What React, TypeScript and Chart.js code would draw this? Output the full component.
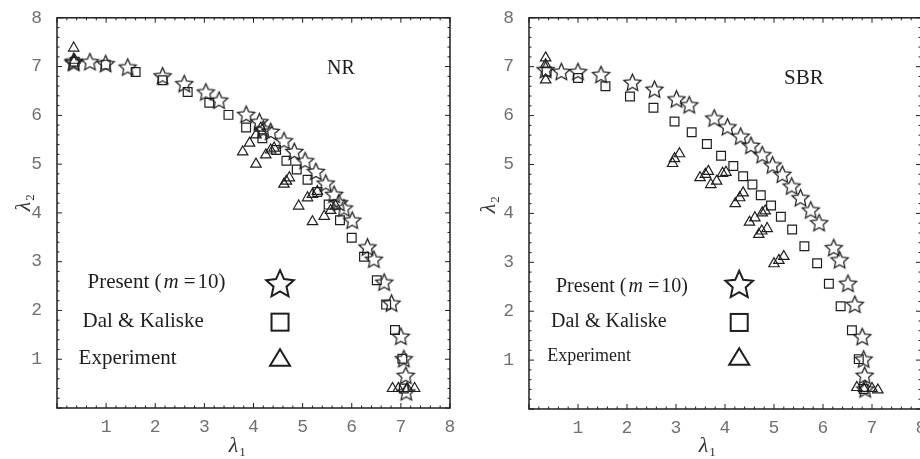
import React, { useEffect, useRef } from 'react';
import { Chart, registerables } from 'chart.js';
Chart.register(...registerables);

// ---------- NR (left panel) ----------
const nrPresentX = [0.34, 0.34, 0.67, 0.99, 1.44, 2.15, 2.59, 3.03, 3.30, 3.85, 4.12, 4.20, 4.35, 4.62, 4.83, 5.05, 5.27, 5.47, 5.64, 5.74, 5.84, 6.01, 6.32, 6.45, 6.66, 6.81, 7.00, 7.06, 7.10, 7.11];
const nrPresentY = [7.11, 7.08, 7.10, 7.06, 6.99, 6.81, 6.65, 6.48, 6.31, 6.02, 5.87, 5.72, 5.67, 5.48, 5.26, 5.07, 4.85, 4.61, 4.38, 4.21, 4.10, 3.85, 3.30, 3.05, 2.58, 2.15, 1.47, 1.01, 0.67, 0.33];
const nrDalX = [0.36, 0.99, 1.60, 2.15, 2.66, 3.10, 3.49, 3.85, 4.18, 4.46, 4.67, 4.88, 5.10, 5.30, 5.53, 5.76, 6.00, 6.25, 6.51, 6.70, 6.88, 7.03, 7.06];
const nrDalY = [7.10, 7.04, 6.89, 6.72, 6.48, 6.26, 6.01, 5.75, 5.53, 5.29, 5.07, 4.89, 4.68, 4.43, 4.17, 3.85, 3.49, 3.10, 2.62, 2.12, 1.60, 1.01, 0.40];
const nrExpX = [0.34, 0.36, 3.78, 3.92, 4.05, 4.05, 4.15, 4.25, 4.35, 4.42, 4.62, 4.67, 4.73, 4.92, 5.10, 5.20, 5.20, 5.30, 5.44, 5.57, 5.67, 6.83, 6.95, 7.13, 7.28];
const nrExpY = [7.38, 7.13, 5.25, 5.43, 5.60, 5.00, 5.74, 5.19, 5.29, 5.33, 4.59, 4.65, 4.72, 4.14, 4.31, 4.38, 3.82, 4.44, 3.93, 4.05, 4.14, 0.40, 0.40, 0.40, 0.40];

// ---------- SBR (right panel) ----------
const sbrPresentX = [0.34, 0.66, 1.00, 1.47, 2.11, 2.56, 3.01, 3.27, 3.78, 4.05, 4.32, 4.53, 4.76, 4.97, 5.17, 5.36, 5.54, 5.75, 5.92, 6.22, 6.34, 6.51, 6.65, 6.80, 6.83, 6.85, 6.86];
const sbrPresentY = [6.94, 6.90, 6.90, 6.84, 6.68, 6.54, 6.34, 6.22, 5.95, 5.77, 5.58, 5.39, 5.20, 4.99, 4.80, 4.56, 4.32, 4.07, 3.81, 3.30, 3.05, 2.57, 2.14, 1.48, 1.02, 0.69, 0.41];
const sbrDalX = [0.36, 1.00, 1.56, 2.06, 2.54, 2.97, 3.32, 3.63, 3.92, 4.17, 4.37, 4.56, 4.73, 4.94, 5.14, 5.37, 5.62, 5.88, 6.12, 6.36, 6.59, 6.73, 6.83];
const sbrDalY = [6.90, 6.77, 6.60, 6.39, 6.16, 5.88, 5.66, 5.42, 5.18, 4.97, 4.76, 4.59, 4.37, 4.16, 3.93, 3.67, 3.33, 2.98, 2.56, 2.10, 1.61, 1.02, 0.41];
const sbrExpX = [0.34, 0.34, 0.34, 2.93, 2.97, 3.07, 3.49, 3.60, 3.66, 3.71, 3.83, 3.95, 4.02, 4.21, 4.30, 4.37, 4.50, 4.61, 4.69, 4.75, 4.76, 4.82, 4.86, 5.00, 5.10, 5.20, 6.69, 6.83, 7.00, 7.12];
const sbrExpY = [7.18, 7.04, 6.73, 5.02, 5.12, 5.22, 4.73, 4.80, 4.86, 4.59, 4.66, 4.82, 4.84, 4.20, 4.32, 4.42, 3.82, 3.91, 3.57, 3.64, 4.01, 4.05, 3.69, 2.97, 3.04, 3.12, 0.44, 0.42, 0.42, 0.39];

const tickLabels = ['', '1', '2', '3', '4', '5', '6', '7', '8'];
const seriesNames = ['Present', 'Dal & Kaliske', 'Experiment'];

const INK = '#1e1e1e';

function toPts(xs: number[], ys: number[]) {
  return xs.map((x, i) => ({ x, y: ys[i] }));
}

function starPath(ctx: CanvasRenderingContext2D, cx: number, cy: number, R: number, r: number) {
  ctx.beginPath();
  for (let i = 0; i < 10; i++) {
    const a = -Math.PI / 2 + (i * Math.PI) / 5;
    const rad = i % 2 === 0 ? R : r;
    const x = cx + rad * Math.cos(a);
    const y = cy + rad * Math.sin(a);
    if (i === 0) ctx.moveTo(x, y);
    else ctx.lineTo(x, y);
  }
  ctx.closePath();
}

function starImage(R: number, lw: number) {
  const s = Math.ceil(2 * R + lw * 2 + 2);
  const c = document.createElement('canvas');
  c.width = s;
  c.height = s;
  const ctx = c.getContext('2d')!;
  starPath(ctx, s / 2, s / 2 + R * 0.08, R, R * 0.47);
  ctx.lineWidth = lw;
  ctx.strokeStyle = INK;
  ctx.stroke();
  return c;
}

type Panel = {
  present: { x: number; y: number }[];
  dal: { x: number; y: number }[];
  exp: { x: number; y: number }[];
  name: string;
  nameAt: [number, number];
  nameSize: number;
  legend: {
    presentText: [number, number]; presentSize: number;
    dalText: [number, number]; dalSize: number;
    expText: [number, number]; expSize: number;
    markerX: number; starY: number; squareY: number; triY: number;
  };
  yTitleAt: [number, number];
  xTitleAt: [number, number];
  yAxisWidth: number;
  xAxisHeight: number;
};

const serif = '"Liberation Serif", "Times New Roman", "DejaVu Serif", serif';

function framePlugin(p: Panel) {
  return {
    id: 'frame',
    afterDraw(chart: any) {
      const ctx: CanvasRenderingContext2D = chart.ctx;
      const xs = chart.scales.x;
      const ys = chart.scales.y;
      const { left, right, top, bottom } = chart.chartArea;
      ctx.save();
      // border
      ctx.strokeStyle = INK;
      ctx.lineWidth = 1.5;
      ctx.strokeRect(left, top, right - left, bottom - top);
      // ticks inside on all sides
      ctx.lineWidth = 1;
      ctx.beginPath();
      for (let k = 0; k <= 40; k++) {
        const v = k * 0.2;
        const major = k % 5 === 0;
        const len = major ? 5 : 2.5;
        const px = xs.getPixelForValue(v);
        ctx.moveTo(px, bottom);
        ctx.lineTo(px, bottom - len);
        ctx.moveTo(px, top);
        ctx.lineTo(px, top + len);
        const py = ys.getPixelForValue(v);
        ctx.moveTo(left, py);
        ctx.lineTo(left + len, py);
        ctx.moveTo(right, py);
        ctx.lineTo(right - len, py);
      }
      ctx.stroke();

      ctx.fillStyle = INK;
      ctx.textBaseline = 'middle';
      // panel name
      ctx.font = `${p.nameSize}px ${serif}`;
      ctx.textAlign = 'center';
      ctx.fillText(p.name, xs.getPixelForValue(p.nameAt[0]), ys.getPixelForValue(p.nameAt[1]));

      // legend texts
      const L = p.legend;
      ctx.textAlign = 'left';
      let tx = xs.getPixelForValue(L.presentText[0]);
      const ty = ys.getPixelForValue(L.presentText[1]);
      ctx.font = `${L.presentSize}px ${serif}`;
      const s1 = seriesNames[0] + ' (';
      ctx.fillText(s1, tx, ty);
      tx += ctx.measureText(s1).width + 2;
      ctx.font = `italic ${L.presentSize}px ${serif}`;
      ctx.fillText('m', tx, ty);
      tx += ctx.measureText('m').width + 5;
      ctx.font = `${L.presentSize}px ${serif}`;
      ctx.fillText('=', tx, ty);
      tx += ctx.measureText('=').width + 2;
      ctx.fillText('10)', tx, ty);

      ctx.font = `${L.dalSize}px ${serif}`;
      ctx.fillText(seriesNames[1], xs.getPixelForValue(L.dalText[0]), ys.getPixelForValue(L.dalText[1]));
      ctx.font = `${L.expSize}px ${serif}`;
      ctx.fillText(seriesNames[2], xs.getPixelForValue(L.expText[0]), ys.getPixelForValue(L.expText[1]));

      // legend markers
      const mx = xs.getPixelForValue(L.markerX);
      ctx.lineWidth = 2;
      ctx.strokeStyle = INK;
      starPath(ctx, mx, ys.getPixelForValue(L.starY) + 1, 14.5, 14.5 * 0.47);
      ctx.stroke();
      const sq = ys.getPixelForValue(L.squareY);
      ctx.strokeRect(mx - 8.5, sq - 8.5, 17, 17);
      const tr = ys.getPixelForValue(L.triY);
      ctx.beginPath();
      ctx.moveTo(mx, tr - 9);
      ctx.lineTo(mx + 10, tr + 7.5);
      ctx.lineTo(mx - 10, tr + 7.5);
      ctx.closePath();
      ctx.stroke();

      // axis titles
      const drawLambda = (sub: string) => {
        ctx.textAlign = 'left';
        ctx.textBaseline = 'alphabetic';
        ctx.font = `12px ${serif}`;
        const ws = ctx.measureText(sub).width;
        ctx.font = `italic 22px ${serif}`;
        const w = ctx.measureText('λ').width;
        const total = w + ws + 1;
        ctx.fillText('λ', -total / 2, 7);
        ctx.font = `13px ${serif}`;
        ctx.fillText(sub, -total / 2 + w + 1, 11);
      };
      ctx.fillStyle = '#333';
      ctx.save();
      ctx.translate(p.xTitleAt[0], p.xTitleAt[1]);
      drawLambda('1');
      ctx.restore();
      ctx.save();
      ctx.translate(p.yTitleAt[0], p.yTitleAt[1]);
      ctx.rotate(-Math.PI / 2);
      drawLambda('2');
      ctx.restore();

      ctx.restore();
    },
  };
}

function makeConfig(p: Panel): any {
  const star = starImage(9, 1.25);
  const tickFont = { family: '"Liberation Mono", "Courier New", monospace', size: 18 };
  return {
    type: 'scatter',
    data: {
      datasets: [
        { label: seriesNames[1], data: p.dal, pointStyle: 'rect', pointRadius: 6.2, borderColor: INK, backgroundColor: 'rgba(0,0,0,0)', borderWidth: 1.2 },
        { label: seriesNames[2], data: p.exp, pointStyle: 'triangle', pointRadius: 6, borderColor: INK, backgroundColor: 'rgba(0,0,0,0)', borderWidth: 1.2 },
        { label: seriesNames[0], data: p.present, pointStyle: star, pointRadius: 9, borderColor: INK, backgroundColor: 'rgba(0,0,0,0)' },
      ],
    },
    options: {
      animation: false,
      responsive: false,
      maintainAspectRatio: false,
      layout: { padding: { top: 16, right: 9, left: 0, bottom: 0 } },
      plugins: { legend: { display: false }, tooltip: { enabled: false } },
      scales: {
        x: {
          type: 'linear', min: 0, max: 8,
          grid: { display: false }, border: { display: false },
          ticks: { stepSize: 1, padding: 0, color: '#707070', font: tickFont, maxRotation: 0, autoSkip: false,
            callback: (v: number) => tickLabels[Math.round(v)] ?? '' },
          afterFit: (s: any) => { s.height = p.xAxisHeight; },
        },
        y: {
          type: 'linear', min: 0, max: 8,
          grid: { display: false }, border: { display: false },
          ticks: { stepSize: 1, padding: 7, color: '#707070', font: tickFont, autoSkip: false,
            callback: (v: number) => tickLabels[Math.round(v)] ?? '' },
          afterFit: (s: any) => { s.width = p.yAxisWidth; },
        },
      },
    },
    plugins: [framePlugin(p)],
  };
}

const nrPanel: Panel = {
  present: toPts(nrPresentX, nrPresentY),
  dal: toPts(nrDalX, nrDalY),
  exp: toPts(nrExpX, nrExpY),
  name: 'NR', nameAt: [5.78, 6.96], nameSize: 20,
  legend: {
    presentText: [0.62, 2.57], presentSize: 21,
    dalText: [0.52, 1.78], dalSize: 21,
    expText: [0.44, 1.02], expSize: 21,
    markerX: 4.54, starY: 2.55, squareY: 1.76, triY: 1.02,
  },
  yTitleAt: [23, 203],
  xTitleAt: [237, 445],
  yAxisWidth: 57,
  xAxisHeight: 51,
};

const sbrPanel: Panel = {
  present: toPts(sbrPresentX, sbrPresentY),
  dal: toPts(sbrDalX, sbrDalY),
  exp: toPts(sbrExpX, sbrExpY),
  name: 'SBR', nameAt: [5.61, 6.76], nameSize: 21,
  legend: {
    presentText: [0.55, 2.5], presentSize: 20,
    dalText: [0.45, 1.79], dalSize: 20,
    expText: [0.37, 1.08], expSize: 18,
    markerX: 4.29, starY: 2.55, squareY: 1.77, triY: 1.06,
  },
  yTitleAt: [17, 205],
  xTitleAt: [236, 445],
  yAxisWidth: 58,
  xAxisHeight: 50,
};

function PanelChart({ panel, left }: { panel: Panel; left: number }) {
  const ref = useRef<HTMLCanvasElement>(null);
  useEffect(() => {
    const chart = new Chart(ref.current!, makeConfig(panel));
    return () => chart.destroy();
  }, [panel]);
  return (
    <canvas
      ref={ref}
      width={460}
      height={459}
      style={{ position: 'absolute', left, top: 0, width: 460, height: 459 }}
    />
  );
}

export default function App() {
  return (
    <div style={{ position: 'fixed', left: 0, top: 0, width: 920, height: 459, overflow: 'hidden', background: '#fff' }}>
      <PanelChart panel={nrPanel} left={0} />
      <PanelChart panel={sbrPanel} left={471} />
    </div>
  );
}
